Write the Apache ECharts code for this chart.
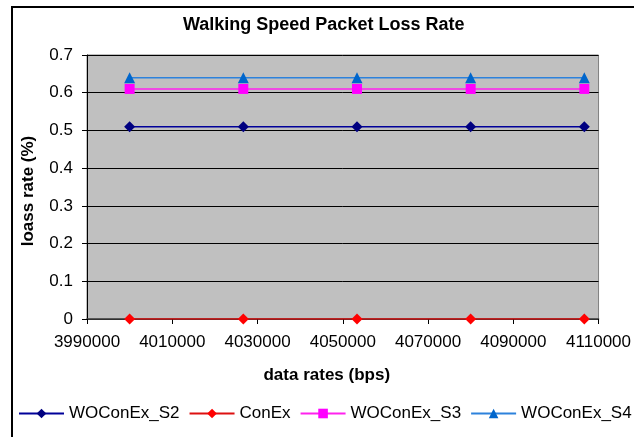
<!DOCTYPE html>
<html>
<head>
<meta charset="utf-8">
<script src="https://cdn.jsdelivr.net/npm/echarts@6/dist/echarts.min.js"></script>
<style>
  html, body { margin: 0; padding: 0; background: #fff; }
  #chart { width: 634px; height: 437px; }
</style>
</head>
<body>
<div id="chart"></div>
<script>
// data rates (bps)
const dataRates = [4000000, 4026667, 4053333, 4080000, 4106667]
const woConExS2 = [0.51, 0.51, 0.51, 0.51, 0.51]
const conEx = [0, 0, 0, 0, 0]
const woConExS3 = [0.61, 0.61, 0.61, 0.61, 0.61]
const woConExS4 = [0.64, 0.64, 0.64, 0.64, 0.64]

const font = 'Liberation Sans, Arial, sans-serif'

function pairs(ys) {
  return dataRates.map((x, i) => [x, ys[i]])
}

function makeSeries(name, ys, color, lineColor, symbol, size) {
  return {
    name: name,
    type: 'line',
    data: pairs(ys),
    symbol: symbol,
    symbolSize: size,
    itemStyle: { color: color },
    lineStyle: { color: lineColor, width: 1.5 },
    animation: false
  }
}

const chart = echarts.init(document.getElementById('chart'))
chart.setOption({
  backgroundColor: '#fff',
  textStyle: { fontFamily: font },
  title: {
    text: 'Walking Speed Packet Loss Rate',
    left: 183,
    top: 16,
    padding: 0,
    textStyle: { fontSize: 18, fontWeight: 'bold', color: '#000', fontFamily: font }
  },
  graphic: [{
    type: 'rect',
    shape: { x: 12, y: 7, width: 640, height: 440 },
    style: { fill: 'none', stroke: '#000', lineWidth: 2 },
    silent: true
  }],
  grid: {
    left: 87, right: 31, top: 55, bottom: 118,
    show: true,
    backgroundColor: '#C0C0C0',
    borderColor: '#808080',
    borderWidth: 1
  },
  legend: {
    left: 18,
    top: 405,
    padding: 0,
    itemWidth: 45,
    itemHeight: 12,
    itemGap: 9,
    textStyle: { fontSize: 17, color: '#000', fontFamily: font },
    data: ['WOConEx_S2', 'ConEx', 'WOConEx_S3', 'WOConEx_S4']
  },
  xAxis: {
    type: 'value',
    min: 3990000,
    max: 4110000,
    interval: 20000,
    name: 'data rates (bps)',
    nameLocation: 'middle',
    nameGap: 48,
    nameTextStyle: { fontSize: 17, fontWeight: 'bold', color: '#000', fontFamily: font,
      padding: [0, 32, 0, 0] },
    axisLine: { lineStyle: { color: '#404040', width: 1.5 } },
    axisTick: { show: true, inside: false, length: 5, lineStyle: { color: '#000' } },
    axisLabel: { fontSize: 17, color: '#000', margin: 15, showMaxLabel: true, fontFamily: font,
      formatter: v => String(v) },
    splitLine: { show: false }
  },
  yAxis: {
    type: 'value',
    min: 0,
    max: 0.7,
    interval: 0.1,
    name: 'loass rate (%)',
    nameLocation: 'middle',
    nameGap: 50,
    nameTextStyle: { fontSize: 17, fontWeight: 'bold', color: '#000', fontFamily: font,
      padding: [0, 8, 0, 0] },
    axisLine: { show: true, lineStyle: { color: '#000', width: 1 } },
    axisTick: { show: true, length: 5, lineStyle: { color: '#000' } },
    axisLabel: { fontSize: 17, color: '#000', margin: 14, fontFamily: font,
      formatter: v => String(Math.round(v * 10) / 10) },
    splitLine: { show: true, lineStyle: { color: '#000', width: 1 } }
  },
  series: [
    makeSeries('WOConEx_S2', woConExS2, '#000080', '#000099', 'diamond', 11),
    makeSeries('ConEx', conEx, '#FF0000', '#DD1111', 'diamond', 11),
    makeSeries('WOConEx_S3', woConExS3, '#FF00FF', '#FF22EE', 'rect', 10),
    makeSeries('WOConEx_S4', woConExS4, '#0066CC', '#2D82DC', 'triangle', 11)
  ]
})
</script>
</body>
</html>
